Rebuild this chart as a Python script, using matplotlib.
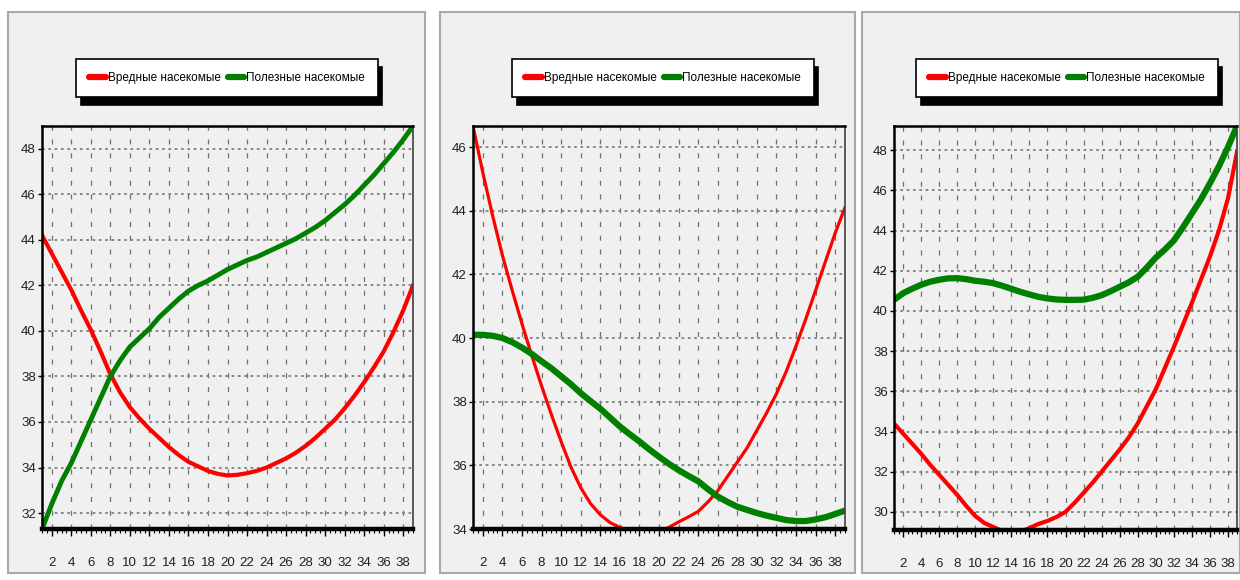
import numpy as np
import matplotlib.pyplot as plt
from matplotlib.patches import Rectangle
from matplotlib.ticker import MultipleLocator

plt.rcParams['font.family'] = ['Liberation Sans', 'DejaVu Sans']

# данные (x = 1..39)
x = np.arange(1, 40)
labels = ['Вредные насекомые', 'Полезные насекомые']

red1 = [44.2, 43.4, 42.6, 41.8, 40.9, 40.05, 39.1, 38.1, 37.3, 36.65, 36.15, 35.7, 35.3,
        34.9, 34.55, 34.25, 34.05, 33.85, 33.72, 33.65, 33.68, 33.75, 33.85, 34.0, 34.2,
        34.4, 34.65, 34.95, 35.3, 35.7, 36.1, 36.6, 37.15, 37.75, 38.4, 39.1, 39.95, 40.9, 42.0]
green1 = [31.3, 32.4, 33.4, 34.2, 35.15, 36.1, 37.05, 38.0, 38.7, 39.3, 39.7, 40.1, 40.6,
          41.0, 41.4, 41.75, 42.0, 42.2, 42.45, 42.7, 42.9, 43.1, 43.25, 43.45, 43.65,
          43.85, 44.05, 44.3, 44.55, 44.85, 45.2, 45.55, 45.95, 46.4, 46.85, 47.35, 47.85, 48.4, 49.0]

red2 = [46.66, 45.2, 43.85, 42.6, 41.5, 40.45, 39.45, 38.5, 37.6, 36.75, 35.95, 35.3, 34.8,
        34.45, 34.2, 34.05, 33.95, 33.88, 33.85, 33.92, 34.05, 34.22, 34.38, 34.55, 34.85,
        35.2, 35.65, 36.1, 36.55, 37.1, 37.65, 38.25, 38.95, 39.75, 40.6, 41.5, 42.4, 43.3, 44.1]
green2 = [40.1, 40.1, 40.07, 40.0, 39.87, 39.7, 39.5, 39.27, 39.05, 38.8, 38.55, 38.27, 38.02,
          37.78, 37.5, 37.22, 36.98, 36.75, 36.5, 36.27, 36.05, 35.85, 35.67, 35.5, 35.25,
          35.02, 34.85, 34.7, 34.6, 34.5, 34.42, 34.35, 34.28, 34.25, 34.25, 34.3, 34.37, 34.47, 34.58]

red3 = [34.4, 33.9, 33.4, 32.9, 32.35, 31.85, 31.35, 30.85, 30.3, 29.8, 29.45, 29.25, 29.05,
        28.95, 29.0, 29.2, 29.4, 29.55, 29.75, 30.0, 30.45, 30.95, 31.45, 32.0, 32.55,
        33.1, 33.7, 34.4, 35.25, 36.1, 37.15, 38.2, 39.3, 40.4, 41.55, 42.7, 44.0, 45.6, 47.9]
green3 = [40.55, 40.88, 41.1, 41.3, 41.45, 41.55, 41.62, 41.63, 41.58, 41.5, 41.45, 41.38, 41.25,
          41.1, 40.95, 40.82, 40.7, 40.62, 40.57, 40.55, 40.55, 40.56, 40.65, 40.78, 40.98,
          41.2, 41.42, 41.7, 42.15, 42.65, 43.05, 43.5, 44.15, 44.85, 45.55, 46.35, 47.2, 48.15, 49.2]

W, H = 1240, 580
fig = plt.figure(figsize=(12.4, 5.8), dpi=100)
fig.patch.set_facecolor('white')

# серые панели
for x0, x1 in [(8, 425), (440, 855), (862, 1240)]:
    fig.patches.append(Rectangle((x0 / W, 1 - 573 / H), (x1 - x0) / W, (573 - 12) / H,
                                 transform=fig.transFigure, facecolor='#f0f0f0',
                                 edgecolor='#a8a8a8', lw=1.5, zorder=-5))

panels = [
    # left, right, top, bottom (px), ylim, yticks, data, line widths, legend center
    (42, 413, 126, 529, (31.3, 49.0), range(32, 49, 2), red1, green1, (3.0, 3.5), 227),
    (473, 845, 126, 529, (34.0, 46.66), range(34, 47, 2), red2, green2, (2.3, 4.5), 663),
    (894, 1237, 126, 530, (29.1, 49.2), range(30, 49, 2), red3, green3, (3.0, 4.5), 1067),
]

for l, r, t, b, ylim, yt, red, green, lws, lx in panels:
    ax = fig.add_axes([l / W, 1 - b / H, (r - l) / W, (b - t) / H])
    ax.set_facecolor('#f0f0f0')
    ax.plot(x, red, color='#ff0000', lw=lws[0], label=labels[0], zorder=3)
    ax.plot(x, green, color='#008000', lw=lws[1], label=labels[1], zorder=3)
    ax.set_xlim(1, 39)
    ax.set_ylim(*ylim)
    ax.set_xticks(range(2, 39, 2))
    ax.xaxis.set_minor_locator(MultipleLocator(0.5))
    ax.set_yticks(list(yt))
    ax.tick_params(axis='x', which='major', length=5, width=1, pad=15, labelsize=9.5,
                   labelcolor='#202020')
    ax.tick_params(axis='x', which='minor', length=3, width=0.8)
    ax.tick_params(axis='y', length=3, width=1, pad=1.5, labelsize=9.5, labelcolor='#202020')
    ax.grid(axis='y', color='#808080', ls=(0, (1.5, 2)), lw=1.3)
    ax.grid(axis='x', color='#707070', ls=(0, (4, 7)), lw=0.9)
    ax.set_axisbelow(True)
    ax.spines['left'].set_linewidth(1.8)
    ax.spines['bottom'].set_linewidth(3.2)
    ax.spines['top'].set_linewidth(1.8)
    ax.spines['right'].set_linewidth(1.2)
    ax.spines['right'].set_color('#404040')
    for s in ax.spines.values():
        s.set_zorder(4)

    leg = ax.legend(loc='center', bbox_to_anchor=(lx / W, 1 - 78 / H),
                    bbox_transform=fig.transFigure, ncol=2, fontsize=8.5,
                    frameon=True, fancybox=False, handlelength=1.4, handletextpad=0.15,
                    columnspacing=0.6, borderpad=1.1, borderaxespad=0,
                    shadow={'ox': 3, 'oy': -6, 'shade': 1.0, 'alpha': 1})
    leg.get_frame().set_edgecolor('black')
    leg.get_frame().set_linewidth(1.2)
    leg.get_frame().set_facecolor('white')
    leg.get_frame().set_alpha(1)
    for line in leg.get_lines():
        line.set_linewidth(4.5)
        line.set_solid_capstyle('round')

fig.savefig('out.png', dpi=100)
